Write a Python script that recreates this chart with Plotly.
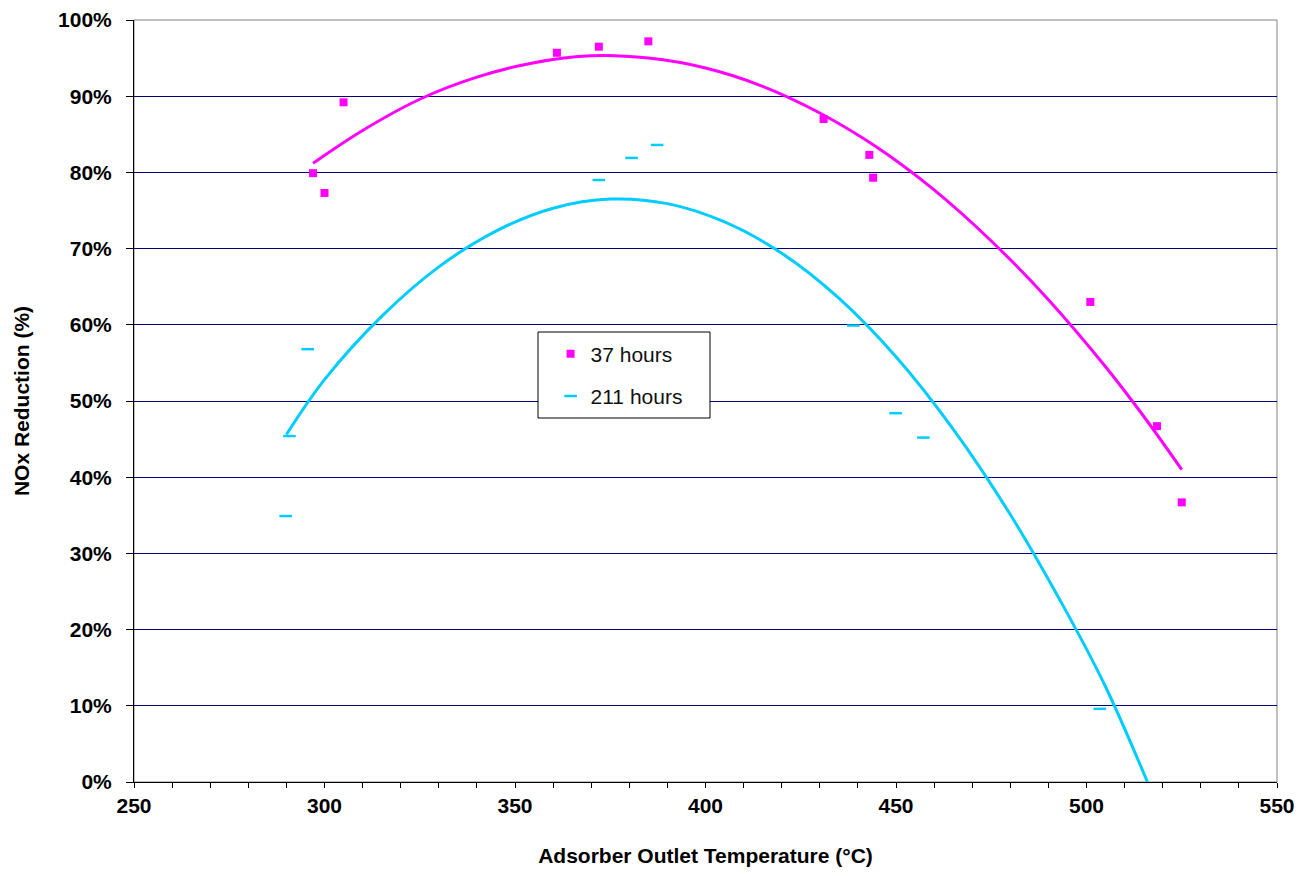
import plotly.graph_objects as go

# ---- data ----
temp_37 = [297, 300, 305, 361, 372, 385, 431, 443, 444, 501, 518.5, 525]
nox_37 = [79.9, 77.3, 89.2, 95.7, 96.5, 97.2, 87.0, 82.3, 79.3, 63.0, 46.7, 36.7]

temp_211 = [289.8, 290.8, 295.6, 372, 380.6, 387.3, 438.8, 449.9, 457.2, 503.5]
nox_211 = [34.9, 45.4, 56.8, 79.0, 81.9, 83.6, 59.9, 48.4, 45.2, 9.6]

# trend curves
fit37_x = [297, 310, 325, 340, 355, 370, 385, 400, 415, 430, 445, 460, 475, 490, 505, 515, 525]
fit37_y = [81.2, 85.5, 89.6, 92.5, 94.4, 95.3, 95.0, 93.7, 91.3, 87.8, 83.3, 77.7, 71.0, 63.3, 54.5, 48.0, 41.0]

fit211_x = [290, 300, 315, 330, 345, 360, 375, 390, 405, 420, 435, 450, 465, 480, 495, 505, 516]
fit211_y = [45.6, 52.8, 61.1, 67.6, 72.3, 75.3, 76.5, 75.9, 73.5, 69.4, 63.5, 55.8, 46.3, 35.1, 22.1, 12.5, 0.0]

x_ticks = [250, 300, 350, 400, 450, 500, 550]
y_ticks = [0, 10, 20, 30, 40, 50, 60, 70, 80, 90, 100]
y_tick_labels = ["0%", "10%", "20%", "30%", "40%", "50%", "60%", "70%", "80%", "90%", "100%"]

MAGENTA = "#FF00FF"
CYAN = "#00CCFF"
FONT = "Liberation Sans, Arial, sans-serif"

fig = go.Figure()

fig.add_trace(go.Scatter(x=fit37_x, y=fit37_y, mode="lines", line=dict(color=MAGENTA, width=3, shape="spline"),
                         showlegend=False, hoverinfo="skip"))
fig.add_trace(go.Scatter(x=fit211_x, y=fit211_y, mode="lines", line=dict(color=CYAN, width=3, shape="spline"),
                         showlegend=False, hoverinfo="skip"))

fig.add_trace(go.Scatter(x=temp_37, y=nox_37, mode="markers", name="37 hours", legendgroup="a",
                         marker=dict(symbol="square", size=8, color=MAGENTA, line=dict(width=0))))
fig.add_trace(go.Scatter(x=temp_211, y=nox_211, mode="markers", name="211 hours", legendgroup="b",
                         marker=dict(symbol="line-ew", size=9, color=CYAN, line=dict(color=CYAN, width=2.5))))

# legend box (drawn as a shape so its size matches the reference)
lx0, lx1 = (538 - 134) / 1143, (710 - 134) / 1143
ly1, ly0 = (782 - 332) / 762, (782 - 418) / 762

fig.update_layout(
    width=1309, height=876,
    margin=dict(l=126, r=40, t=12, b=102, autoexpand=False),
    paper_bgcolor="white", plot_bgcolor="white",
    font=dict(family=FONT, color="black"),
    legend=dict(x=lx0 + 0.011, y=ly1 - 0.002, xanchor="left", yanchor="top",
                bgcolor="rgba(0,0,0,0)", borderwidth=0,
                font=dict(size=21, family=FONT, color="#111111"),
                tracegroupgap=12),
    shapes=[
        dict(type="rect", xref="paper", yref="paper", x0=0, x1=1, y0=0, y1=1,
             line=dict(color="#808080", width=1), layer="below"),
        dict(type="rect", xref="paper", yref="paper", x0=lx0, x1=lx1, y0=ly0, y1=ly1,
             line=dict(color="black", width=1), fillcolor="white", layer="above"),
    ],
)

fig.update_xaxes(
    range=[250, 550], tickvals=x_ticks, ticks="outside", ticklen=5, tickcolor="black",
    minor=dict(dtick=10, ticks="outside", ticklen=5, tickcolor="black", showgrid=False),
    showline=True, linecolor="black", linewidth=1, showgrid=False, zeroline=False,
    tickfont=dict(size=21, family=FONT, color="black", weight="bold"),
    ticklabelstandoff=0, automargin=False,
    title=dict(text="<b>Adsorber Outlet Temperature (°C)</b>", font=dict(size=21, family=FONT), standoff=32),
)
fig.update_yaxes(
    range=[0, 100], tickvals=y_ticks, ticktext=y_tick_labels, ticks="outside", ticklen=7, tickcolor="black",
    showline=True, linecolor="black", linewidth=1,
    showgrid=True, gridcolor="#000080", gridwidth=1, zeroline=False,
    tickfont=dict(size=21, family=FONT, color="black", weight="bold"),
    ticklabelstandoff=10, automargin=False,
    title=dict(text="<b>NOx Reduction (%)</b>", font=dict(size=21, family=FONT), standoff=22),
)

fig.write_html("out.html")
